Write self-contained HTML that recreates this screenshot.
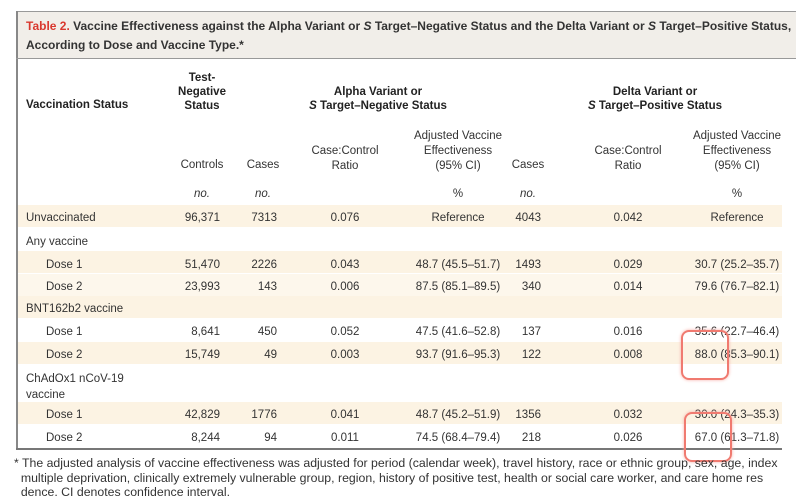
<!DOCTYPE html>
<html><head><meta charset="utf-8"><style>
body{margin:0;width:800px;height:500px;overflow:hidden;background:#fff;position:relative;font-family:"Liberation Sans",sans-serif;color:#333;}
div{position:absolute;white-space:nowrap;}
.c{width:200px;text-align:center;font-size:11.5px;margin-top:3px;}
.r{width:100px;text-align:right;font-size:11.5px;margin-top:3px;}
.l{font-size:11.5px;margin-top:3px;}
.b{font-weight:bold;color:#222;}
.i{font-style:italic;}
.s{left:18px;width:764px;height:22px;background:#fcf3e3;}
</style></head><body>
<div style="left:16px;top:11px;width:780px;height:47px;background:#f1eee9;border-top:1.5px solid #999;"></div>
<div style="left:16px;top:11px;width:2px;height:439px;background:#888;"></div>
<div style="left:16px;top:58px;width:780px;height:1px;background:#999;"></div>
<div style="left:16px;top:448px;width:766px;height:1.5px;background:#777;"></div>
<div style="left:26px;top:17px;font-size:12px;font-weight:bold;color:#333;line-height:19px;"><span style="color:#d9382e">Table 2.</span> Vaccine Effectiveness against the Alpha Variant or <i>S</i> Target–Negative Status and the Delta Variant or <i>S</i> Target–Positive Status,<br>According to Dose and Vaccine Type.*</div>

<div class="s" style="top:205px"></div>
<div class="s" style="top:251px"></div>
<div class="s" style="top:274px;background:#fdf7ec"></div>
<div class="s" style="top:296px"></div>
<div class="s" style="top:342px"></div>
<div class="s" style="top:402px"></div>

<div class="l b" style="left:26px;top:96px">Vaccination Status</div>
<div class="c b" style="left:102px;top:68px;line-height:14px">Test-<br>Negative<br>Status</div>
<div class="c b" style="left:278px;top:82px;line-height:14px">Alpha Variant or<br><i>S</i> Target–Negative Status</div>
<div class="c b" style="left:555px;top:82px;line-height:14px">Delta Variant or<br><i>S</i> Target–Positive Status</div>

<div class="c" style="left:102px;top:156px">Controls</div>
<div class="c" style="left:163px;top:156px">Cases</div>
<div class="c" style="left:245px;top:141px;line-height:15px">Case:Control<br>Ratio</div>
<div class="c" style="left:358px;top:126px;line-height:15px">Adjusted Vaccine<br>Effectiveness<br>(95% CI)</div>
<div class="c" style="left:428px;top:156px">Cases</div>
<div class="c" style="left:528px;top:141px;line-height:15px">Case:Control<br>Ratio</div>
<div class="c" style="left:637px;top:126px;line-height:15px">Adjusted Vaccine<br>Effectiveness<br>(95% CI)</div>
<div class="c i" style="left:102px;top:185px">no.</div>
<div class="c i" style="left:163px;top:185px">no.</div>
<div class="c" style="left:358px;top:185px">%</div>
<div class="c i" style="left:428px;top:185px">no.</div>
<div class="c" style="left:637px;top:185px">%</div>

<div class="l" style="left:26px;top:209px">Unvaccinated</div>
<div class="l" style="left:26px;top:233px">Any vaccine</div>
<div class="l" style="left:46px;top:256px">Dose 1</div>
<div class="l" style="left:46px;top:278px">Dose 2</div>
<div class="l" style="left:26px;top:300px">BNT162b2 vaccine</div>
<div class="l" style="left:46px;top:323px">Dose 1</div>
<div class="l" style="left:46px;top:346px">Dose 2</div>
<div class="l" style="left:26px;top:368px;line-height:16px">ChAdOx1 nCoV-19<br>vaccine</div>
<div class="l" style="left:46px;top:406px">Dose 1</div>
<div class="l" style="left:46px;top:429px">Dose 2</div>

<div class="r" style="left:120px;top:209px">96,371</div><div class="r" style="left:177px;top:209px">7313</div><div class="c" style="left:245px;top:209px">0.076</div><div class="c" style="left:358px;top:209px">Reference</div><div class="r" style="left:441px;top:209px">4043</div><div class="c" style="left:528px;top:209px">0.042</div><div class="c" style="left:637px;top:209px">Reference</div>

<div class="r" style="left:120px;top:256px">51,470</div><div class="r" style="left:177px;top:256px">2226</div><div class="c" style="left:245px;top:256px">0.043</div><div class="c" style="left:358px;top:256px">48.7 (45.5–51.7)</div><div class="r" style="left:441px;top:256px">1493</div><div class="c" style="left:528px;top:256px">0.029</div><div class="c" style="left:637px;top:256px">30.7 (25.2–35.7)</div>

<div class="r" style="left:120px;top:278px">23,993</div><div class="r" style="left:177px;top:278px">143</div><div class="c" style="left:245px;top:278px">0.006</div><div class="c" style="left:358px;top:278px">87.5 (85.1–89.5)</div><div class="r" style="left:441px;top:278px">340</div><div class="c" style="left:528px;top:278px">0.014</div><div class="c" style="left:637px;top:278px">79.6 (76.7–82.1)</div>

<div class="r" style="left:120px;top:323px">8,641</div><div class="r" style="left:177px;top:323px">450</div><div class="c" style="left:245px;top:323px">0.052</div><div class="c" style="left:358px;top:323px">47.5 (41.6–52.8)</div><div class="r" style="left:441px;top:323px">137</div><div class="c" style="left:528px;top:323px">0.016</div><div class="c" style="left:637px;top:323px">35.6 (22.7–46.4)</div>

<div class="r" style="left:120px;top:346px">15,749</div><div class="r" style="left:177px;top:346px">49</div><div class="c" style="left:245px;top:346px">0.003</div><div class="c" style="left:358px;top:346px">93.7 (91.6–95.3)</div><div class="r" style="left:441px;top:346px">122</div><div class="c" style="left:528px;top:346px">0.008</div><div class="c" style="left:637px;top:346px">88.0 (85.3–90.1)</div>

<div class="r" style="left:120px;top:406px">42,829</div><div class="r" style="left:177px;top:406px">1776</div><div class="c" style="left:245px;top:406px">0.041</div><div class="c" style="left:358px;top:406px">48.7 (45.2–51.9)</div><div class="r" style="left:441px;top:406px">1356</div><div class="c" style="left:528px;top:406px">0.032</div><div class="c" style="left:637px;top:406px">30.0 (24.3–35.3)</div>

<div class="r" style="left:120px;top:429px">8,244</div><div class="r" style="left:177px;top:429px">94</div><div class="c" style="left:245px;top:429px">0.011</div><div class="c" style="left:358px;top:429px">74.5 (68.4–79.4)</div><div class="r" style="left:441px;top:429px">218</div><div class="c" style="left:528px;top:429px">0.026</div><div class="c" style="left:637px;top:429px">67.0 (61.3–71.8)</div>

<div style="left:681px;top:330px;width:44px;height:46px;border:2.5px solid #f07a70;border-radius:8px;box-shadow:0 0 3px #f7b0a8;"></div>
<div style="left:684px;top:412px;width:44px;height:46px;border:2.5px solid #f07a70;border-radius:8px;box-shadow:0 0 3px #f7b0a8;"></div>

<div style="left:14px;top:456px;font-size:12.3px;line-height:14.5px;color:#333">* The adjusted analysis of vaccine effectiveness was adjusted for period (calendar week), travel history, race or ethnic group, sex, age, index<br>&nbsp;&nbsp;multiple deprivation, clinically extremely vulnerable group, region, history of positive test, health or social care worker, and care home res<br>&nbsp;&nbsp;dence. CI denotes confidence interval.</div>
</body></html>
